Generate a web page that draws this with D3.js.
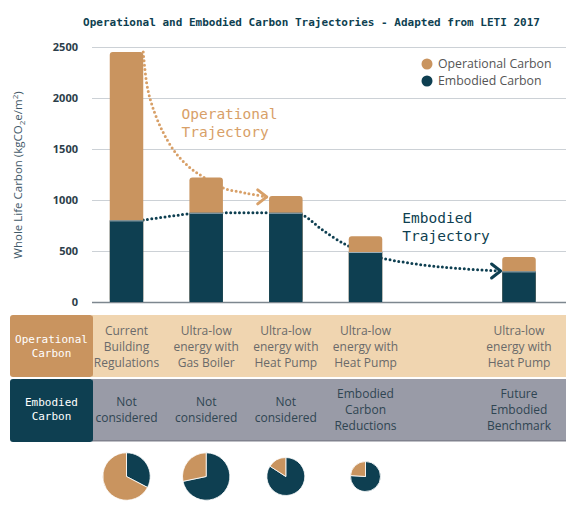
<!DOCTYPE html>
<html><head><meta charset="utf-8">
<script src="https://cdn.jsdelivr.net/npm/d3@7"></script>
<style>body{margin:0;background:#fff}</style>
</head><body><svg id="c" width="572" height="510"></svg>
<script>
// ---------------- data ----------------
const categories = ["Current Building Regulations", "Ultra-low energy with Gas Boiler",
  "Ultra-low energy with Heat Pump", "Embodied Carbon Reductions", "Future Embodied Benchmark"];
const embodiedValues = [800, 875, 875, 490, 300];
const operationalValues = [1650, 345, 165, 155, 140];
const yTicks = [0, 500, 1000, 1500, 2000, 2500];
const seriesNames = ["Operational Carbon", "Embodied Carbon"];
const opRowLabels = [["Current", "Building", "Regulations"], ["Ultra-low", "energy with", "Gas Boiler"],
  ["Ultra-low", "energy with", "Heat Pump"], ["Ultra-low", "energy with", "Heat Pump"],
  ["Ultra-low", "energy with", "Heat Pump"]];
const emRowLabels = [["Not", "considered"], ["Not", "considered"], ["Not", "considered"],
  ["Embodied", "Carbon", "Reductions"], ["Future", "Embodied", "Benchmark"]];
const pieCount = 4;
// trajectories: [category index position, value]
const opTrajectory = [[0.21, 2450], [0.257, 2127], [0.32, 1931], [0.445, 1686], [0.61, 1470], [0.8, 1314],
  [0.985, 1216], [1.21, 1118], [1.49, 1069], [1.76, 1030]];
const emTrajectory = [[0.21, 804], [0.772, 863], [1.0, 875], [1.21, 875], [1.776, 875], [2.0, 875],
  [2.21, 853], [2.46, 706], [2.76, 559], [3.0, 480], [3.114, 428], [3.375, 363], [3.596, 330], [3.88, 304]];

// ---------------- style ----------------
const C_OP = "#c9945f", C_EM = "#0e3f51", C_OP_LIGHT = "#d8a068";
const SANS = "'Open Sans', 'Noto Sans', sans-serif";
const MONO = "'DejaVu Sans Mono', 'Liberation Mono', monospace";

const svg = d3.select("#c");
const x = d3.scaleLinear().domain([0, 3, 4]).range([126.5, 365.5, 519]);
const y = d3.scaleLinear().domain([0, 2500]).range([302, 47]);
const barW = 33.5;
const plotL = 92, plotR = 566;

// title
svg.append("text").attr("x", 311.5).attr("y", 26).attr("text-anchor", "middle")
  .attr("font-family", MONO).attr("font-weight", "bold").attr("font-size", 11).attr("fill", C_EM)
  .text("Operational and Embodied Carbon Trajectories - Adapted from LETI 2017");

// gridlines
svg.append("g").selectAll("line").data(yTicks).join("line")
  .attr("x1", plotL).attr("x2", plotR).attr("y1", d => y(d) + 0.5).attr("y2", d => y(d) + 0.5)
  .attr("stroke", d => d === 0 ? "#7d878f" : "#ccd1d6").attr("stroke-width", d => d === 0 ? 1.5 : 1);

// y axis ticks
const yAxis = d3.axisLeft(y).tickValues(yTicks).tickFormat(d3.format("d")).tickSize(0).tickPadding(0);
const ga = svg.append("g").attr("transform", "translate(78,0)").call(yAxis);
ga.select(".domain").remove();
ga.selectAll("text").attr("font-family", SANS).attr("font-weight", "bold").attr("font-size", 11)
  .attr("fill", "#2c3e4a").attr("dy", "0.35em");

// y axis title
const yt = svg.append("text").attr("transform", "translate(22,175) rotate(-90)").attr("text-anchor", "middle")
  .attr("font-family", SANS).attr("font-size", 11.5).attr("fill", "#3f5868");
yt.append("tspan").text("Whole Life Carbon (kgCO");
yt.append("tspan").attr("font-size", 8).attr("dy", 3).text("2");
yt.append("tspan").attr("dy", -3).text("e/m");
yt.append("tspan").attr("font-size", 8).attr("dy", -4).text("2");
yt.append("tspan").attr("dy", 4).text(")");

// trajectories (behind bars)
const line = d3.line().x(d => x(d[0])).y(d => y(d[1])).curve(d3.curveCatmullRom.alpha(0.5));
function trajectory(pts, color) {
  svg.append("path").attr("d", line(pts)).attr("fill", "none").attr("stroke", color)
    .attr("stroke-width", 3).attr("stroke-linecap", "round").attr("stroke-dasharray", "0 4.4");
  const e = pts[pts.length - 1];
  const tx = x(e[0]), ty = y(e[1]);
  svg.append("path").attr("d", `M${tx - 9},${ty - 7}L${tx},${ty}L${tx - 9},${ty + 7}`)
    .attr("fill", "none").attr("stroke", color).attr("stroke-width", 3)
    .attr("stroke-linecap", "round").attr("stroke-linejoin", "round");
}
trajectory(opTrajectory, C_OP_LIGHT);
trajectory(emTrajectory, C_EM);

// bars
const bars = svg.append("g").selectAll("g").data(categories).join("g");
bars.append("rect").attr("x", (d, i) => x(i) - barW / 2).attr("width", barW)
  .attr("y", (d, i) => y(embodiedValues[i] + operationalValues[i])).attr("rx", 3)
  .attr("height", (d, i) => y(0) - y(embodiedValues[i] + operationalValues[i]))
  .attr("fill", C_OP);
bars.append("rect").attr("x", (d, i) => x(i) - barW / 2).attr("width", barW)
  .attr("y", (d, i) => y(embodiedValues[i]))
  .attr("height", (d, i) => y(0) - y(embodiedValues[i]))
  .attr("fill", C_EM);
bars.append("line").attr("x1", (d, i) => x(i) - barW / 2).attr("x2", (d, i) => x(i) + barW / 2)
  .attr("y1", (d, i) => y(embodiedValues[i]) + 0.5).attr("y2", (d, i) => y(embodiedValues[i]) + 0.5)
  .attr("stroke", "#9fb0b9").attr("stroke-width", 1);

// annotations
const ann = (lines, ix, v, color) => {
  const t = svg.append("text").attr("font-family", MONO).attr("font-size", 14.5).attr("fill", color);
  lines.forEach((s, k) => t.append("tspan").attr("x", x(ix)).attr("y", y(v) + k * 18.5).text(s));
};
ann(["Operational", "Trajectory"], 0.69, 1795, C_OP_LIGHT);
ann(["Embodied", "Trajectory"], 3.24, 775, C_EM);

// legend
const lg = svg.append("g").selectAll("g").data(seriesNames).join("g")
  .attr("transform", (d, i) => `translate(427,${64 + i * 17})`);
lg.append("circle").attr("r", 5.5).attr("fill", (d, i) => i === 0 ? C_OP : C_EM);
lg.append("text").attr("x", 11).attr("dy", "0.35em").attr("font-family", SANS).attr("font-size", 12.3)
  .attr("fill", "#555").text(d => d);

// table
svg.append("rect").attr("x", plotL).attr("y", 315).attr("width", plotR - plotL).attr("height", 62).attr("fill", "#f0d5b0");
svg.append("rect").attr("x", plotL).attr("y", 379).attr("width", plotR - plotL).attr("height", 62).attr("fill", "#999ba7");
svg.append("rect").attr("x", plotL).attr("y", 440).attr("width", plotR - plotL).attr("height", 1.5).attr("fill", "#80828e");
svg.append("rect").attr("x", 10).attr("y", 315).attr("width", 83).attr("height", 62).attr("rx", 3).attr("fill", C_OP);
svg.append("rect").attr("x", 10).attr("y", 379).attr("width", 83).attr("height", 63).attr("rx", 3).attr("fill", C_EM);
const boxLabel = (lines, cy) => {
  const t = svg.append("text").attr("text-anchor", "middle").attr("font-family", MONO)
    .attr("font-size", 11).attr("fill", "#fff");
  lines.forEach((s, k) => t.append("tspan").attr("x", 51.5).attr("y", cy + (k - (lines.length - 1) / 2) * 14 + 4).text(s));
};
boxLabel(["Operational", "Carbon"], 346);
boxLabel(["Embodied", "Carbon"], 409);

const cellText = (labels, cy, color) => {
  labels.forEach((lines, i) => {
    const t = svg.append("text").attr("text-anchor", "middle").attr("font-family", SANS)
      .attr("font-size", 12).attr("fill", color);
    lines.forEach((s, k) => t.append("tspan").attr("x", x(i))
      .attr("y", cy + (k - (lines.length - 1) / 2) * 16 + 4).text(s));
  });
};
cellText(opRowLabels, 346.5, "#6a6a6a");
cellText(emRowLabels, 410, "#2f4552");

// pies
const pr = d3.scaleLinear().domain([645, 1040, 1220]).range([15, 19, 23.7]).clamp(true);
const pie = d3.pie().sort(null);
for (let i = 0; i < pieCount; i++) {
  const total = embodiedValues[i] + operationalValues[i];
  const arc = d3.arc().innerRadius(0).outerRadius(pr(total));
  svg.append("g").attr("transform", `translate(${x(i)},476.5)`)
    .selectAll("path").data(pie([embodiedValues[i], operationalValues[i]])).join("path")
    .attr("d", arc).attr("fill", (d, k) => k === 0 ? C_EM : C_OP)
    .attr("stroke", "#fff").attr("stroke-width", 0.8);
}
</script></body></html>
